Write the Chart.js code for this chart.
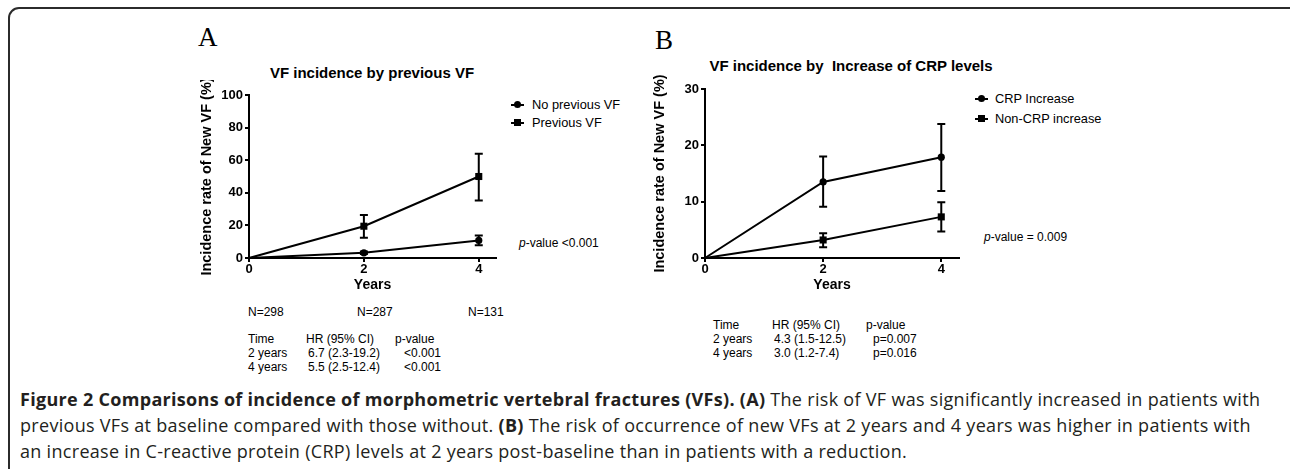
<!DOCTYPE html>
<html>
<head>
<meta charset="utf-8">
<script src="https://cdn.jsdelivr.net/npm/chart.js@4.4.0/dist/chart.umd.min.js"></script>
<style>
  html, body { margin: 0; padding: 0; background: #fff; }
  body { width: 1290px; height: 469px; position: relative; overflow: hidden;
         font-family: "Liberation Sans", Arial, sans-serif; color: #000; }
  canvas { position: absolute; }
  .frame { position: absolute; left: 8px; top: 7px; width: 1300px; height: 500px;
           border: 2px solid #2b2b2b; border-radius: 11px; box-sizing: border-box; }
  .abs { position: absolute; white-space: pre; line-height: 1; }
  .panel { font-family: "Liberation Serif", "DejaVu Serif", serif; font-size: 27px; }
  .title { font-weight: bold; font-size: 15px; transform: translate(-50%, -50%); }
  .txt { font-size: 12px; transform: translateY(-50%); }
  .leg { font-size: 12.8px; transform: translateY(-50%); }
  .sym { position: absolute; width: 13px; height: 2px; background: #000; transform: translateY(-50%); }
  .sym i { position: absolute; left: 3px; top: -3px; width: 7px; height: 7px; background: #000; }
  .sym i.dot { border-radius: 50%; }
  .cap { position: absolute; left: 20px; white-space: nowrap; font-family: "Open Sans", "Noto Sans", sans-serif;
         font-size: 18px; letter-spacing: 0.3px; color: #231f20; transform: translateY(-50%); line-height: 1.2; }
</style>
</head>
<body>
<div class="frame"></div>

<!-- panel A -->
<div class="abs panel" style="left:198px; top:24px;">A</div>
<div class="abs title" style="left:372px; top:72px;">VF incidence by previous VF</div>
<canvas id="chartA" width="330" height="215" style="left:180px; top:80px;"></canvas>
<div class="sym" style="left:511px; top:105px;"><i class="dot"></i></div>
<div class="abs leg" style="left:532px; top:105px;">No previous VF</div>
<div class="sym" style="left:511px; top:123px;"><i></i></div>
<div class="abs leg" style="left:532px; top:123px;">Previous VF</div>
<div class="abs txt" style="left:519px; top:243px;"><i>p</i>-value &lt;0.001</div>

<div class="abs txt" style="left:248px; top:312px;">N=298</div>
<div class="abs txt" style="left:357px; top:312px;">N=287</div>
<div class="abs txt" style="left:468px; top:312px;">N=131</div>

<div class="abs txt" style="left:248px; top:339px;">Time</div>
<div class="abs txt" style="left:306px; top:339px;">HR (95% CI)</div>
<div class="abs txt" style="left:395px; top:339px;">p-value</div>
<div class="abs txt" style="left:248px; top:353px;">2 years</div>
<div class="abs txt" style="left:308px; top:353px;">6.7 (2.3-19.2)</div>
<div class="abs txt" style="left:404px; top:353px;">&lt;0.001</div>
<div class="abs txt" style="left:248px; top:367px;">4 years</div>
<div class="abs txt" style="left:308px; top:367px;">5.5 (2.5-12.4)</div>
<div class="abs txt" style="left:404px; top:367px;">&lt;0.001</div>

<!-- panel B -->
<div class="abs panel" style="left:655px; top:27px;">B</div>
<div class="abs title" style="left:851px; top:65px;">VF incidence by  Increase of CRP levels</div>
<canvas id="chartB" width="335" height="220" style="left:640px; top:75px;"></canvas>
<div class="sym" style="left:975px; top:99px;"><i class="dot"></i></div>
<div class="abs leg" style="left:995px; top:99px;">CRP Increase</div>
<div class="sym" style="left:975px; top:119px;"><i></i></div>
<div class="abs leg" style="left:995px; top:119px;">Non-CRP increase</div>
<div class="abs txt" style="left:984px; top:237px;"><i>p</i>-value = 0.009</div>

<div class="abs txt" style="left:713px; top:325px;">Time</div>
<div class="abs txt" style="left:772px; top:325px;">HR (95% CI)</div>
<div class="abs txt" style="left:866px; top:325px;">p-value</div>
<div class="abs txt" style="left:713px; top:339px;">2 years</div>
<div class="abs txt" style="left:774px; top:339px;">4.3 (1.5-12.5)</div>
<div class="abs txt" style="left:873px; top:339px;">p=0.007</div>
<div class="abs txt" style="left:713px; top:353px;">4 years</div>
<div class="abs txt" style="left:774px; top:353px;">3.0 (1.2-7.4)</div>
<div class="abs txt" style="left:873px; top:353px;">p=0.016</div>

<!-- caption -->
<div class="cap" style="top:400px;"><b>Figure 2 Comparisons of incidence of morphometric vertebral fractures (VFs). (A)</b> The risk of VF was significantly increased in patients with</div>
<div class="cap" style="top:426px;">previous VFs at baseline compared with those without. <b>(B)</b> The risk of occurrence of new VFs at 2 years and 4 years was higher in patients with</div>
<div class="cap" style="top:452px;">an increase in C-reactive protein (CRP) levels at 2 years post-baseline than in patients with a reduction.</div>

<script>
// ---- data ----
const years = [0, 2, 4];

// panel A
const noPrevVF     = [0, 3.2, 10.8];
const noPrevVFLow  = [0, 2.4, 7.8];
const noPrevVFHigh = [0, 4.0, 13.8];
const prevVF       = [0, 19.5, 50.0];
const prevVFLow    = [0, 12.5, 35.2];
const prevVFHigh   = [0, 26.4, 64.0];
const ticksA = [0, 20, 40, 60, 80, 100];

// panel B
const crpInc      = [0, 13.5, 17.9];
const crpIncLow   = [0, 9.1, 11.9];
const crpIncHigh  = [0, 18.0, 23.8];
const nonCrp      = [0, 3.2, 7.3];
const nonCrpLow   = [0, 1.9, 4.7];
const nonCrpHigh  = [0, 4.4, 9.9];
const ticksB = [0, 10, 20, 30];

const xTicks = [0, 2, 4];

/* ===================================
   ERROR BARS (drawn through scales)
   =================================== */
const errorBars = {
  id: 'errorBars',
  afterDatasetsDraw(chart) {
    const { ctx, scales: { x, y } } = chart;
    ctx.save();
    ctx.strokeStyle = '#000';
    ctx.lineWidth = 2;
    chart.data.datasets.forEach((ds) => {
      ds.data.forEach((pt, i) => {
        const lo = ds.errLow[i], hi = ds.errHigh[i];
        if (lo === hi) return;
        const px = x.getPixelForValue(pt.x);
        const yLo = y.getPixelForValue(lo);
        const yHi = y.getPixelForValue(hi);
        ctx.beginPath();
        ctx.moveTo(px, yLo); ctx.lineTo(px, yHi);
        ctx.moveTo(px - 4, yLo); ctx.lineTo(px + 4, yLo);
        ctx.moveTo(px - 4, yHi); ctx.lineTo(px + 4, yHi);
        ctx.stroke();
      });
    });
    ctx.restore();
  }
};

function series(label, vals, low, high, style) {
  return {
    label: label,
    data: years.map((yr, i) => ({ x: yr, y: vals[i] })),
    errLow: low,
    errHigh: high,
    borderColor: '#000',
    backgroundColor: '#000',
    borderWidth: 2,
    pointStyle: style,
    pointRadius: years.map((yr) => (yr === 0 ? 0 : (style === 'rect' ? 5 : 3.6))),
    pointBorderWidth: 0,
    tension: 0,
    clip: false,
  };
}

function makeChart(id, datasets, yTicks, cfg) {
  const tickFont = { family: '"Liberation Sans", Arial, sans-serif', size: 13, weight: 'bold' };
  return new Chart(document.getElementById(id), {
    type: 'line',
    data: { datasets: datasets },
    plugins: [errorBars],
    options: {
      responsive: false,
      animation: false,
      events: [],
      layout: { padding: { left: 0, top: cfg.padTop, right: cfg.padRight, bottom: 0 } },
      plugins: { legend: { display: false }, tooltip: { enabled: false } },
      scales: {
        x: {
          type: 'linear',
          min: 0,
          max: 4.3,
          afterFit: (s) => { s.height = 37; },
          afterBuildTicks: (s) => { s.ticks = xTicks.map((v) => ({ value: v })); },
          border: { display: true, color: '#000', width: 2 },
          grid: { display: true, drawOnChartArea: false, drawTicks: true, tickLength: 4, color: '#000', lineWidth: 2 },
          ticks: { color: '#000', font: tickFont, padding: 0, maxRotation: 0 },
          title: { display: true, text: 'Years', color: '#000',
                   font: { family: tickFont.family, size: 14, weight: 'bold' }, padding: { top: 0, bottom: 1 } },
        },
        y: {
          min: 0,
          max: yTicks[yTicks.length - 1],
          afterFit: (s) => { s.width = cfg.yWidth; },
          afterBuildTicks: (s) => { s.ticks = yTicks.map((v) => ({ value: v })); },
          border: { display: true, color: '#000', width: 2 },
          grid: { display: true, drawOnChartArea: false, drawTicks: true, tickLength: 4, color: '#000', lineWidth: 2 },
          ticks: { color: '#000', font: tickFont, padding: 2 },
          title: { display: true, text: 'Incidence rate of New VF (%)', color: '#000',
                   font: { family: tickFont.family, size: 14.5, weight: 'bold' }, padding: { top: cfg.yTitlePad, bottom: 0 } },
        },
      },
    },
  });
}

makeChart('chartA', [
  series('No previous VF', noPrevVF, noPrevVFLow, noPrevVFHigh, 'circle'),
  series('Previous VF', prevVF, prevVFLow, prevVFHigh, 'rect'),
], ticksA, { padTop: 15, padRight: 14, yWidth: 69, yTitlePad: 18 });

makeChart('chartB', [
  series('CRP Increase', crpInc, crpIncLow, crpIncHigh, 'circle'),
  series('Non-CRP increase', nonCrp, nonCrpLow, nonCrpHigh, 'rect'),
], ticksB, { padTop: 14, padRight: 16, yWidth: 65, yTitlePad: 11 });
</script>
</body>
</html>
